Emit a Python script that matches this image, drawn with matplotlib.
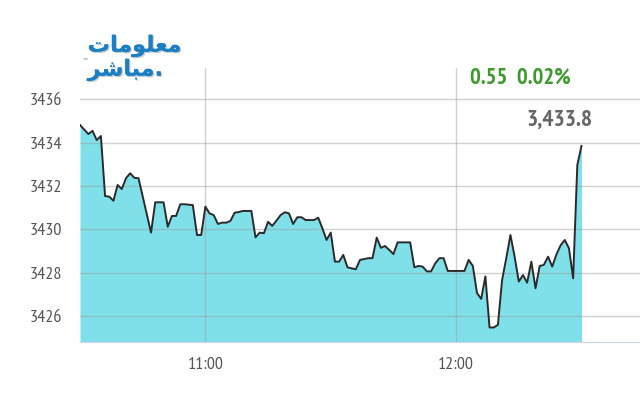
import pandas as pd
import matplotlib.pyplot as plt
import matplotlib.dates as mdates
import matplotlib.patheffects as pe

# minutes after 10:30 and index level
minutes = [0, 2, 3, 4, 5, 6, 7, 8, 9, 10, 11, 12, 13, 14, 17, 18, 20, 21, 22, 23,
           24, 25, 27, 28, 29, 30, 31, 32, 33, 34, 35, 36, 37, 38, 39, 41, 42, 43, 44, 45,
           46, 47, 48, 49, 50, 51, 52, 53, 54, 56, 57, 58, 59, 60, 61, 62, 63, 64, 65, 66,
           67, 68, 69, 70, 71, 72, 73, 74, 75, 76, 77, 79, 80, 81, 82, 83, 84, 85, 86, 87,
           88, 92, 93, 94, 95, 96, 97, 98, 99, 100, 101, 102, 103, 104, 105, 106, 107, 108, 109, 110,
           111, 112, 113, 114, 115, 116, 117, 118, 119, 120]
values = [3434.82, 3434.40, 3434.55, 3434.12, 3434.31, 3431.54, 3431.51, 3431.32, 3432.05, 3431.86,
          3432.36, 3432.59, 3432.38, 3432.36, 3429.85, 3431.25, 3431.25, 3430.12, 3430.62, 3430.62,
          3431.16, 3431.16, 3431.12, 3429.74, 3429.74, 3431.05, 3430.74, 3430.66, 3430.25, 3430.31,
          3430.31, 3430.39, 3430.77, 3430.80, 3430.85, 3430.85, 3429.63, 3429.85, 3429.82, 3430.35,
          3430.16, 3430.40, 3430.66, 3430.79, 3430.74, 3430.25, 3430.56, 3430.56, 3430.43, 3430.43,
          3430.54, 3430.05, 3429.51, 3429.85, 3428.51, 3428.51, 3428.82, 3428.25, 3428.20, 3428.16,
          3428.59, 3428.63, 3428.67, 3428.67, 3429.62, 3429.15, 3429.23, 3429.05, 3428.86, 3429.40,
          3429.40, 3429.40, 3428.25, 3428.31, 3428.28, 3428.06, 3428.06, 3428.43, 3428.67, 3428.67,
          3428.08, 3428.08, 3428.59, 3428.31, 3427.06, 3426.79, 3427.83, 3425.47, 3425.47, 3425.59,
          3427.66, 3428.67, 3429.74, 3428.74, 3427.59, 3427.89, 3427.54, 3428.51, 3427.28, 3428.31,
          3428.36, 3428.74, 3428.28, 3428.84, 3429.26, 3429.51, 3429.13, 3427.74, 3432.97, 3433.85]

y_ticks = [3426, 3428, 3430, 3432, 3434, 3436]
x_ticks = ['11:00', '12:00']
change_text = '0.55  0.02%'
last_text = '3,433.8'

start = pd.Timestamp('2020-01-01 10:30')
times = start + pd.to_timedelta(minutes, unit='min')

num_font = ['PT Sans Narrow', 'DejaVu Sans']

fig = plt.figure(figsize=(6.4, 4), dpi=100)
ax = fig.add_axes([0.125, 0.145, 0.875, 0.685])

y_low, y_high = 3424.8, 3437.45
ax.set_ylim(y_low, y_high)
ax.set_xlim(start, start + pd.Timedelta(minutes=134))

ax.fill_between(times, values, y_low, color='#80e0e9', lw=0, zorder=1)
ax.plot(times, values, color='#2a2a2a', lw=1.4, zorder=3)

ax.set_yticks(y_ticks)
ax.set_xticks([pd.Timestamp('2020-01-01 ' + t) for t in x_ticks])
ax.xaxis.set_major_formatter(mdates.DateFormatter('%H:%M'))
ax.set_axisbelow(False)
ax.grid(True, color='#999999', alpha=0.45, lw=1)
ax.tick_params(length=0, labelcolor='#555555', labelsize=13)
ax.tick_params(axis='y', pad=13)
ax.tick_params(axis='x', pad=11)
for lab in ax.get_xticklabels() + ax.get_yticklabels():
    lab.set_family(num_font)

for s in ['top', 'right', 'left']:
    ax.spines[s].set_visible(False)
ax.spines['bottom'].set_color('#ccd6eb')

fig.text(0.735, 0.805, change_text, color='#3f9a2e', fontsize=16.5, fontweight='bold',
         family=num_font, va='center', ha='left')
fig.text(0.823, 0.70, last_text, color='#666666', fontsize=17, fontweight='bold',
         family=num_font, va='center', ha='left')

# logo: shaped Arabic letters (presentation forms) laid out left to right
logo1 = '\ufe95\ufe8e\ufee3\ufeee\ufee0\ufecc\ufee3'
logo2 = '\ufeae\ufeb7\ufe8e\ufe92\ufee3'
shadow = [pe.withSimplePatchShadow(offset=(1, -1), shadow_rgbFace='#999999', alpha=0.5), pe.Normal()]
fig.text(0.137, 0.885, logo1, color='#1b7fc4', fontsize=16, fontweight='bold',
         family='DejaVu Sans', va='center', ha='left', path_effects=shadow)
fig.text(0.137, 0.825, logo2 + '.', color='#1b7fc4', fontsize=16, fontweight='bold',
         family='DejaVu Sans', va='center', ha='left', path_effects=shadow)
fig.text(0.128, 0.845, '\u2122', color='#1b7fc4', fontsize=4, va='center', ha='left')

fig.savefig('out.png', dpi=100)
